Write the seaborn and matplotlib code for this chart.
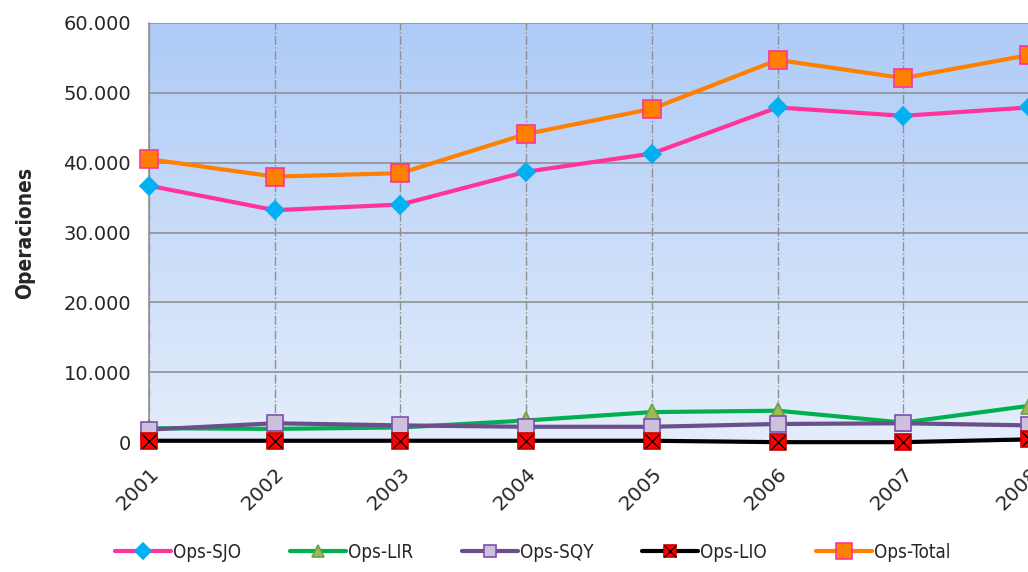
import numpy as np
import matplotlib
matplotlib.use("Agg")
import matplotlib.pyplot as plt
from matplotlib.ticker import FuncFormatter
from matplotlib.legend_handler import HandlerTuple
from matplotlib.lines import Line2D
import seaborn as sns

# Data
years = [2001, 2002, 2003, 2004, 2005, 2006, 2007, 2008]
ops_sjo = [36700, 33200, 34000, 38700, 41300, 47900, 46700, 47900]
ops_lir = [2000, 1900, 2100, 3100, 4300, 4500, 2800, 5200]
ops_sqy = [1800, 2700, 2400, 2200, 2200, 2600, 2700, 2400]
ops_lio = [200, 200, 200, 200, 200, 0, 0, 400]
ops_total = [40500, 38000, 38500, 44100, 47700, 54700, 52100, 55400]

sns.set_style("white")
plt.rcParams['font.family'] = ['DejaVu Sans']

fig = plt.figure(figsize=(10.28, 5.72), dpi=100)
ax = fig.add_axes([0.145, 0.227, 0.856, 0.733])

# gradient background of the plot area
grad = np.linspace(0, 1, 256).reshape(-1, 1)
cmap = matplotlib.colors.LinearSegmentedColormap.from_list("bg", ["#e4edfb", "#aecbf7"])
ax.imshow(grad, aspect="auto", cmap=cmap, origin="lower",
          extent=[0, 1, 0, 1], transform=ax.transAxes, zorder=0)

# series: (values, label, line colour, marker, face, edge, size)
series = [
    (ops_sjo, "Ops-SJO", "#ff3399", "D", "#00b0f0", "#00b0f0", 9),
    (ops_lir, "Ops-LIR", "#00b050", "^", "#9bbb59", "#70a040", 11),
    (ops_sqy, "Ops-SQY", "#6a4f8a", "s", "#ccc0da", "#7d4fb0", 11),
    (ops_lio, "Ops-LIO", "#000000", "s", "#ff0000", "#cc0000", 11),
    (ops_total, "Ops-Total", "#ff8000", "s", "#ff8000", "#ff3399", 13),
]

handles = []
for vals, label, lc, mk, mf, me, ms in series:
    sns.lineplot(x=years, y=vals, ax=ax, color=lc, linewidth=3, marker=mk,
                 markersize=ms, markerfacecolor=mf, markeredgecolor=me,
                 markeredgewidth=1.2, clip_on=False, zorder=3, legend=False)
    h = Line2D([], [], color=lc, linewidth=3, marker=mk, markersize=ms * 0.85,
               markerfacecolor=mf, markeredgecolor=me, markeredgewidth=1.2)
    if label == "Ops-LIO":
        # red square with a black cross on it
        ax.plot(years, vals, linestyle="none", marker="x", markersize=10,
                color="#000000", markeredgewidth=0.9, clip_on=False, zorder=4)
        hx = Line2D([], [], linestyle="none", marker="x", markersize=8,
                    color="#000000", markeredgewidth=0.9)
        h = (h, hx)
    handles.append(h)

ax.set_xlim(2001, 2008)
ax.set_ylim(0, 60000)
ax.set_xticks(years)
ax.set_xticklabels([str(y) for y in years], rotation=45, ha="right",
                   rotation_mode="anchor", fontsize=14.5)
ax.set_yticks(range(0, 60001, 10000))
ax.yaxis.set_major_formatter(FuncFormatter(lambda v, p: f"{int(v):,}".replace(",", ".")))
ax.tick_params(axis="y", labelsize=14, length=8, color="#909090", pad=5)
ax.tick_params(axis="x", length=0, pad=16)

ax.grid(axis="y", color="#909090", linewidth=1.2, linestyle="-", zorder=1)
ax.grid(axis="x", color="#909090", linewidth=1, linestyle="-.", zorder=1)
ax.set_axisbelow(True)
for side in ["top", "right", "bottom"]:
    ax.spines[side].set_visible(False)
ax.spines["left"].set_color("#909090")
ax.spines["left"].set_linewidth(1.2)

ax.set_ylabel("Operaciones", fontsize=15, fontweight="bold",
              fontstretch="condensed", labelpad=20)

labels = [s[1] for s in series]
fig.legend(handles, labels, loc="lower center", bbox_to_anchor=(0.518, -0.012),
           ncol=5, frameon=False, handlelength=3.0,
           columnspacing=2.6, handletextpad=0.1,
           prop={"family": "DejaVu Sans", "stretch": "condensed", "size": 13.5},
           handler_map={tuple: HandlerTuple(ndivide=1, pad=0)})

fig.savefig("out.png", dpi=100)
